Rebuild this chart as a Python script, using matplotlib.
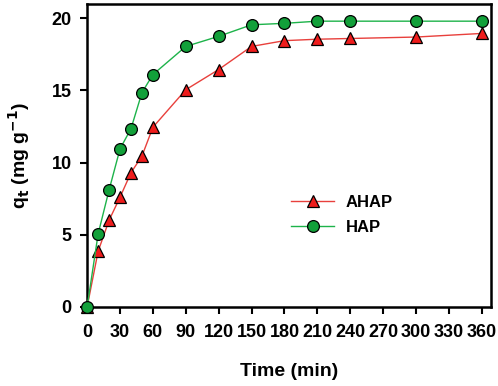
import matplotlib
matplotlib.use("Agg")
import matplotlib.pyplot as plt

plt.rcParams['font.family'] = ['Liberation Sans', 'DejaVu Sans']
plt.rcParams['font.weight'] = 'bold'

# sampling times (min)
time_min = [0, 10, 20, 30, 40, 50, 60, 90, 120, 150, 180, 210, 240, 300, 360]

# uptake q_t (mg/g)
ahap_qt = [0, 3.85, 6.0, 7.6, 9.3, 10.45, 12.45, 15.05, 16.45, 18.05, 18.45, 18.55, 18.6, 18.7, 18.95]
hap_qt = [0, 5.05, 8.1, 10.95, 12.35, 14.85, 16.1, 18.05, 18.75, 19.55, 19.65, 19.8, 19.8, 19.8, 19.8]

x_ticks = list(range(0, 361, 30))
y_ticks = [0, 5, 10, 15, 20]

fig = plt.figure(figsize=(4.98, 3.86), dpi=100)
ax = fig.add_axes([0.175, 0.205, 0.81, 0.785])

ax.plot(time_min, ahap_qt, color='#e8403c', lw=1.0, marker='^', ms=9,
        mfc='#ee1c1c', mec='black', mew=0.9, label='AHAP', clip_on=False, zorder=3)
ax.plot(time_min, hap_qt, color='#1db34a', lw=1.0, marker='o', ms=8.5,
        mfc='#12a03a', mec='black', mew=0.9, label='HAP', clip_on=False, zorder=4)

ax.set_xlim(0, 368)
ax.set_ylim(0, 21)
ax.set_xticks(x_ticks)
ax.set_yticks(y_ticks)

for s in ax.spines.values():
    s.set_linewidth(1.8)
ax.tick_params(direction='out', length=5, width=1.5, labelsize=13)
ax.tick_params(axis='x', pad=7)
ax.tick_params(axis='y', pad=6)
for lbl in ax.get_xticklabels() + ax.get_yticklabels():
    lbl.set_fontweight('bold')

ax.set_xlabel('Time (min)', fontsize=14, fontweight='bold', labelpad=16)
ax.set_ylabel(r'q$_\mathbf{t}$ (mg g$^\mathbf{-1}$)', fontsize=14, fontweight='bold', labelpad=14)

leg = ax.legend(loc='upper left', bbox_to_anchor=(0.468, 0.42), frameon=False,
                fontsize=12, handlelength=2.6, handletextpad=0.7, labelspacing=0.6)
for t in leg.get_texts():
    t.set_fontweight('bold')

fig.savefig('out.png', dpi=100)
